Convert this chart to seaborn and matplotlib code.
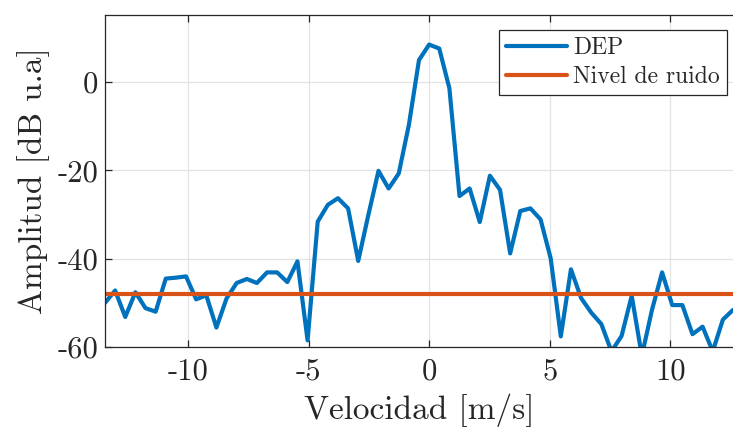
import numpy as np
import pandas as pd
import matplotlib
matplotlib.use("Agg")
import matplotlib.pyplot as plt
import seaborn as sns

# ---- data ----
dv = 0.42
sample_index = list(range(-32, 31))
dep_db = [-50.0, -47.2, -53.2, -47.6, -51.2, -52.0, -44.5, -44.3, -44.0, -49.2,
          -48.3, -55.6, -49.0, -45.5, -44.6, -45.5, -43.1, -43.1, -45.3, -40.6,
          -58.5, -31.6, -27.8, -26.3, -28.6, -40.5, -30.1, -20.1, -24.1, -20.7,
          -9.7, 5.0, 8.5, 7.6, -1.4, -25.8, -24.1, -31.7, -21.2, -24.4,
          -38.8, -29.2, -28.6, -31.1, -39.9, -57.6, -42.4, -48.9, -52.2, -54.8,
          -61.0, -57.5, -48.4, -62.0, -51.6, -43.1, -50.5, -50.5, -57.1, -55.4,
          -61.0, -53.8, -51.6]
noise_level = -48.0
velocity = [k * dv for k in sample_index]

xticks = [-10, -5, 0, 5, 10]
yticks = [-60, -40, -20, 0]

df = pd.DataFrame({"Velocidad": velocity, "DEP": dep_db,
                   "Ruido": [noise_level] * len(velocity)})

# ---- style ----
sns.set_theme(style="white")
plt.rcParams["font.family"] = ["cmr10", "DejaVu Serif"]
plt.rcParams["axes.unicode_minus"] = False
plt.rcParams["mathtext.fontset"] = "cm"
plt.rcParams["axes.formatter.use_mathtext"] = False

fig = plt.figure(figsize=(7.33, 4.30), dpi=100)
ax = fig.add_axes([105 / 733, 1 - 347 / 430, 1 - 105 / 733, (347 - 15) / 430])

blue = "#0072BD"
orange = "#D95319"

sns.lineplot(data=df, x="Velocidad", y="DEP", ax=ax, color=blue, lw=3.0,
             label="DEP", estimator=None, sort=False)
sns.lineplot(data=df, x="Velocidad", y="Ruido", ax=ax, color=orange, lw=3.0,
             label="Nivel de ruido", estimator=None, sort=False)

ax.set_xlim(velocity[0], 12.6)
ax.set_ylim(-60, 15.2)
ax.set_xticks(xticks)
ax.set_yticks(yticks)
ax.set_xticklabels([str(t) for t in xticks])
ax.set_yticklabels([str(t) for t in yticks])

ax.grid(True, color="#e3e3e3", lw=0.9)
ax.set_axisbelow(True)
for side in ["left", "bottom", "top"]:
    ax.spines[side].set_color("#262626")
    ax.spines[side].set_linewidth(0.9)
ax.spines["right"].set_visible(False)
ax.tick_params(direction="in", length=5, width=0.9, color="#262626",
               labelsize=22, labelcolor="#262626", top=True, left=True,
               bottom=True, right=False)
ax.tick_params(axis="x", pad=8)
ax.tick_params(axis="y", pad=5)

ax.set_xlabel("Velocidad [m/s]", fontsize=24, color="#262626", labelpad=6)
ax.set_ylabel("Amplitud [dB u.a]", fontsize=24, color="#262626", labelpad=5)

leg = ax.legend(loc="upper right", fontsize=17, frameon=True, fancybox=False,
                edgecolor="#262626", framealpha=1, handlelength=2.6,
                borderpad=0.3, labelspacing=0.3, handletextpad=0.25,
                borderaxespad=0, bbox_to_anchor=(0.99, 0.955))
leg.get_frame().set_linewidth(0.9)

fig.savefig("out.png", dpi=100)
